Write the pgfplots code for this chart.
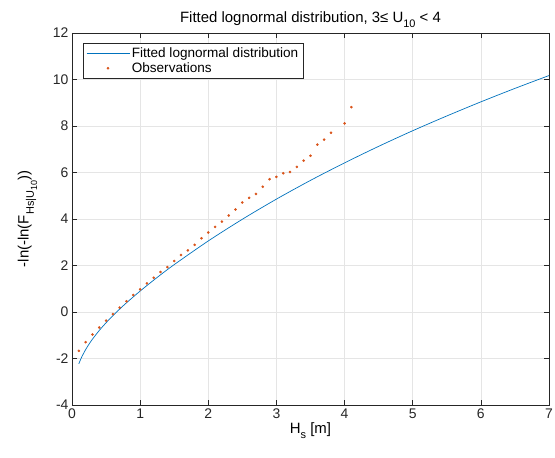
\documentclass[border=0pt]{standalone}
\usepackage{pgfplots}
\pgfplotsset{compat=1.18}
\usepackage{fontspec}
\setmainfont{Liberation Sans}
\definecolor{mblue}{rgb}{0,0.447,0.741}
\definecolor{morange}{rgb}{0.85,0.325,0.098}
\newcommand{\sub}[1]{\raisebox{-0.65ex}{\fontsize{11}{12}\selectfont #1}}
\newcommand{\subb}[1]{\raisebox{-0.55ex}{\fontsize{9}{10}\selectfont #1}}
\begin{document}
\begin{tikzpicture}
\useasboundingbox (-72bp,-53bp) rectangle (483bp,405bp);
\begin{axis}[
  scale only axis, width=477bp, height=372bp,
  xmin=0, xmax=7, ymin=-4, ymax=12,
  xtick={0,1,...,7}, ytick={-4,-2,...,12},
  tick align=inside, major tick length=5bp,
  grid=major, major grid style={color=black!10, line width=0.5pt},
  axis line style={black!85, line width=0.5pt},
  every tick/.style={black!85, line width=0.5pt},
  tick label style={font=\fontsize{14}{16}\selectfont, black!85},
  /pgf/number format/assume math mode=true,
  title={\fontsize{15}{17}\selectfont Fitted lognormal distribution, 3≤ U\sub{10} < 4},
  title style={yshift=-4bp},
  xlabel={\fontsize{15}{17}\selectfont H\sub{s} [m]},
  ylabel={\fontsize{15}{17}\selectfont -ln(-ln(F\sub{Hs|U\subb{10}}))},
  xlabel style={yshift=3bp}, ylabel style={yshift=9bp},
  legend style={at={(0.023,0.973)}, anchor=north west, draw=black!85, font=\fontsize{13.6}{16}\selectfont, row sep=0bp, inner xsep=3bp, inner ysep=2bp},
  legend cell align=left,
  legend image code/.code={\draw[#1] (0bp,0bp) -- (43bp,0bp);},
]
\addplot[mblue, line width=0.7pt, smooth] coordinates {
(0.1,-2.230) (0.12,-2.084) (0.15,-1.892) (0.2,-1.618) (0.25,-1.382) (0.3,-1.170)
(0.4,-0.795) (0.5,-0.4625) (0.6,-0.158) (0.7,0.126) (0.8,0.396) (1.0,0.901)
(1.25,1.487) (1.5,2.038) (2.0,3.056) (2.5,3.989) (3.0,4.855) (3.5,5.661)
(4.0,6.414) (4.5,7.125) (5.0,7.797) (5.5,8.431) (6.0,9.038) (6.5,9.617) (7.0,10.17)
};
\addlegendentry{Fitted lognormal distribution}
\addplot[only marks, mark=*, mark size=1.1pt, color=morange, legend image code/.code={\fill[morange] (21.5bp,0bp) circle (1.1pt);}] coordinates {
(0.1,-1.67) (0.2,-1.30) (0.3,-0.97) (0.4,-0.67) (0.5,-0.37) (0.6,-0.09)
(0.7,0.19) (0.8,0.46) (0.9,0.73) (1.0,0.97) (1.1,1.23) (1.2,1.47)
(1.3,1.72) (1.4,1.93) (1.5,2.19) (1.6,2.45) (1.7,2.65) (1.8,2.89)
(1.9,3.17) (2.0,3.42) (2.1,3.66) (2.2,3.89) (2.3,4.15) (2.4,4.41)
(2.5,4.71) (2.6,4.91) (2.7,5.08) (2.8,5.39) (2.9,5.71) (3.0,5.81)
(3.1,5.97) (3.2,6.02) (3.3,6.24) (3.4,6.51) (3.5,6.72) (3.6,7.20)
(3.7,7.41) (3.8,7.71) (4.0,8.11) (4.1,8.81)
};
\addlegendentry{Observations}
\end{axis}
\end{tikzpicture}
\end{document}
